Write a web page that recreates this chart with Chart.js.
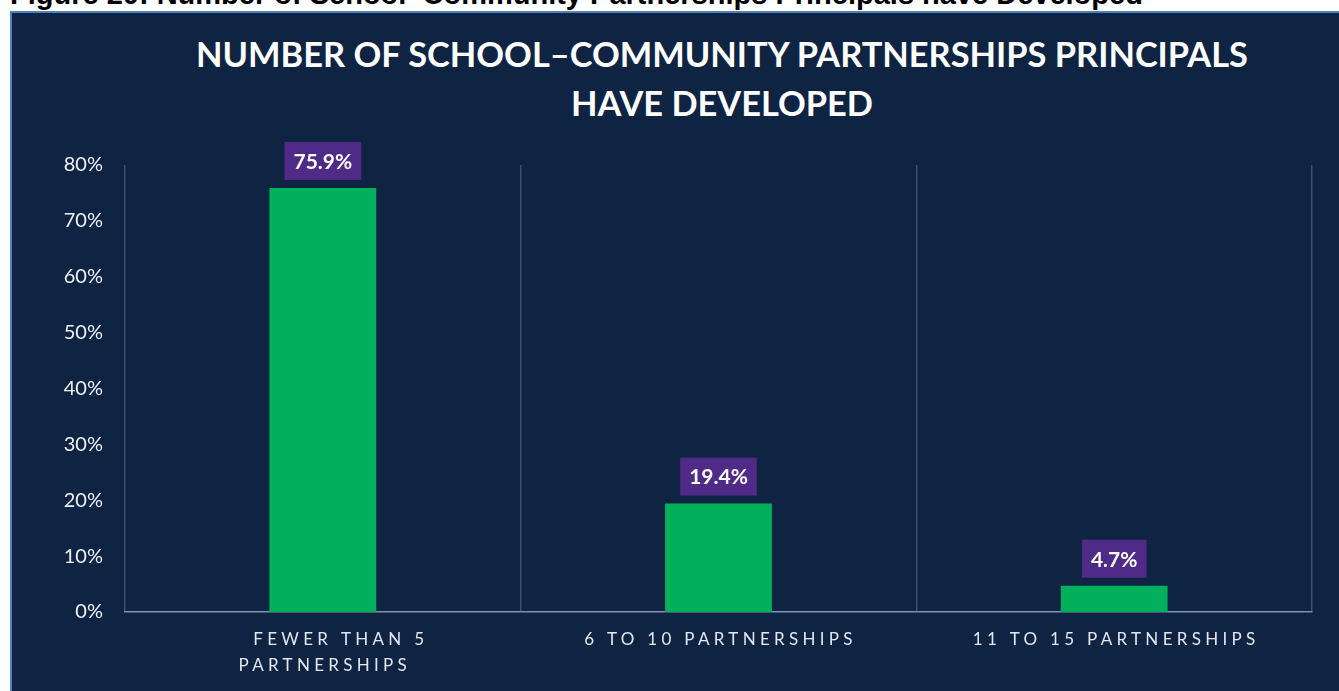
<!DOCTYPE html>
<html>
<head>
<meta charset="utf-8">
<script src="https://cdn.jsdelivr.net/npm/chart.js@4/dist/chart.umd.min.js"></script>
<style>
  html, body { margin: 0; padding: 0; background: #fff; width: 1339px; height: 691px; overflow: hidden; }
  #fig { position: absolute; left: 10px; top: -20px; font: bold 29px "Liberation Sans", Arial, sans-serif; line-height: 29px; color: #000; white-space: nowrap; }
  #panel { position: absolute; left: 10px; top: 11px; width: 1340px; height: 700px; background: #0f2343; border-top: 2px solid #4f81bd; border-left: 2px solid #4f81bd; }
  #title { position: absolute; left: 122px; width: 1200px; top: 29px; text-align: center; color: #fff; font: bold 34.4px Lato, sans-serif; line-height: 49px; }
  #wrap { position: absolute; left: 0; top: 0; width: 1339px; height: 691px; }
</style>
</head>
<body>
<div id="fig">Figure 20: Number of School–Community Partnerships Principals have Developed</div>
<div id="panel"></div>
<div id="title">NUMBER OF SCHOOL–COMMUNITY PARTNERSHIPS PRINCIPALS<br>HAVE DEVELOPED</div>
<div id="wrap"><canvas id="chart" width="1339" height="691"></canvas></div>
<script>
const categories = [["FEWER THAN 5", "PARTNERSHIPS"], ["6 TO 10 PARTNERSHIPS"], ["11 TO 15 PARTNERSHIPS"]];
const values = [75.9, 19.4, 4.7];
const yTicks = [0, 10, 20, 30, 40, 50, 60, 70, 80];

// purple boxes above bars
const valueBoxes = {
  id: "valueBoxes",
  afterDatasetsDraw(chart) {
    const ctx = chart.ctx;
    const meta = chart.getDatasetMeta(0);
    ctx.save();
    ctx.font = "bold 21px Lato, sans-serif";
    ctx.textAlign = "center";
    ctx.textBaseline = "middle";
    meta.data.forEach((bar, i) => {
      const text = values[i].toFixed(1) + "%";
      const w = ctx.measureText(text).width + 18;
      const h = 38;
      const bottom = bar.y - 8;
      ctx.fillStyle = "#4f2a87";
      ctx.fillRect(bar.x - w / 2, bottom - h, w, h);
      ctx.fillStyle = "#ffffff";
      ctx.fillText(text, bar.x, bottom - h / 2 + 1);
    });
    ctx.restore();
  }
};

// spaced-out category labels
const xLabels = {
  id: "xLabels",
  afterDraw(chart) {
    const ctx = chart.ctx;
    const xs = chart.scales.x;
    ctx.save();
    ctx.font = "17px Lato, sans-serif";
    ctx.letterSpacing = "4.3px";
    ctx.fillStyle = "#e4e7ee";
    ctx.textAlign = "center";
    ctx.textBaseline = "middle";
    categories.forEach((lines, i) => {
      const x = xs.getPixelForValue(i);
      lines.forEach((line, j) => {
        const shift = lines.length > 1 && j === 0 ? 16 : 0;
        ctx.fillText(line, x + 2 + shift, chart.chartArea.bottom + 28 + j * 26);
      });
    });
    ctx.restore();
  }
};

new Chart(document.getElementById("chart"), {
  type: "bar",
  data: {
    labels: categories.map(c => c.join(" ")),
    datasets: [{
      data: values,
      backgroundColor: "#00b05a",
      categoryPercentage: 1,
      barPercentage: 0.27
    }]
  },
  options: {
    responsive: false,
    animation: false,
    layout: { padding: { top: 165, right: 27, left: 0, bottom: 0 } },
    plugins: { legend: { display: false }, tooltip: { enabled: false } },
    scales: {
      x: {
        ticks: { display: false },
        grid: { offset: true, color: "#3e4f6e", lineWidth: 1.5, drawTicks: false },
        border: { color: "#7d90b3", width: 1.5 },
        afterFit(scale) { scale.height = 79; }
      },
      y: {
        min: 0,
        max: 80,
        afterBuildTicks(scale) { scale.ticks = yTicks.map(v => ({ value: v })); },
        ticks: {
          color: "#eef0f4",
          font: { family: "Lato, sans-serif", size: 20 },
          padding: 22,
          callback: v => v + "%"
        },
        grid: { display: false, drawTicks: false },
        border: { display: false },
        afterFit(scale) { scale.width = 125; }
      }
    }
  },
  plugins: [valueBoxes, xLabels]
});
</script>
</body>
</html>
